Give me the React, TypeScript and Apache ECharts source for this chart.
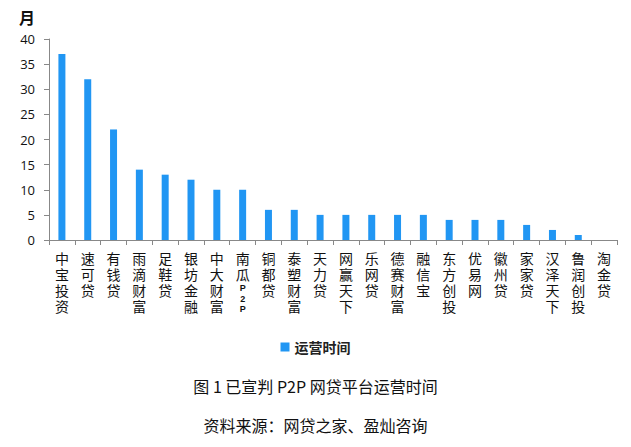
import React, { useEffect, useRef } from "react";
import * as echarts from "echarts";

const categories = [
  "中宝投资", "速可贷", "有钱贷", "雨滴财富", "足鞋贷", "银坊金融", "中大财富", "南瓜P2P",
  "铜都贷", "泰塑财富", "天力贷", "网赢天下", "乐网贷", "德赛财富", "融信宝", "东方创投",
  "优易网", "徽州贷", "家家贷", "汉泽天下", "鲁润创投", "淘金贷",
];
const months = [37, 32, 22, 14, 13, 12, 10, 10, 6, 6, 5, 5, 5, 5, 5, 4, 4, 4, 3, 2, 1, 0];
const yTicks = { min: 0, max: 40, interval: 5 };
const seriesName = "运营时间";
const yUnit = "月";
const titleText = "图 1 已宣判 P2P 网贷平台运营时间";
const sourceText = "资料来源：网贷之家、盈灿咨询";

const CJK = "'Noto Sans CJK SC', 'Noto Sans', sans-serif";
const LABEL_FONT = "'Liberation Sans', 'Noto Sans CJK SC', sans-serif";

function formatLabel(v: string): string {
  const m = v.match(/^(.*?)(P2P)$/);
  if (m) {
    const head = m[1].split("").join("\n");
    return head + "\n{p|P}\n{p|2}\n{p|P}";
  }
  return v.split("").join("\n");
}

export default function App() {
  const ref = useRef<HTMLDivElement>(null);
  useEffect(() => {
    document.body.style.margin = "0";
    const chart = echarts.init(ref.current!, undefined, { renderer: "svg" });
    chart.setOption({
      animation: false,
      backgroundColor: "#ffffff",
      grid: { left: 49, right: 14, top: 39, bottom: 207, containLabel: false },
      legend: {
        data: [seriesName],
        top: 335,
        left: "center",
        itemWidth: 9,
        itemHeight: 9,
        icon: "rect",
        itemGap: 4,
        textStyle: { fontFamily: CJK, fontSize: 14, fontWeight: "bold", color: "#222" },
      },
      graphic: [
        {
          type: "text",
          left: 19,
          top: 9,
          style: { text: yUnit, fontFamily: CJK, fontSize: 16, fontWeight: "bold", fill: "#111" },
        },
        {
          type: "text",
          left: "center",
          top: 378,
          style: { text: titleText, fontFamily: CJK, fontSize: 16, fill: "#111" },
        },
        {
          type: "text",
          left: "center",
          top: 417,
          style: { text: sourceText, fontFamily: CJK, fontSize: 16, fill: "#111" },
        },
      ],
      xAxis: {
        type: "category",
        data: categories,
        axisLine: { lineStyle: { color: "#888" } },
        axisTick: { show: true, length: 5, alignWithLabel: false, lineStyle: { color: "#888" } },
        axisLabel: {
          interval: 0,
          margin: 11,
          fontFamily: LABEL_FONT,
          fontSize: 14,
          lineHeight: 16,
          color: "#111",
          formatter: formatLabel,
          rich: {
            p: { fontFamily: "'Liberation Sans', sans-serif", fontSize: 9, lineHeight: 10.5, color: "#111", fontWeight: "bold" },
          },
        },
      },
      yAxis: {
        type: "value",
        min: yTicks.min,
        max: yTicks.max,
        interval: yTicks.interval,
        splitLine: { show: false },
        axisLine: { show: true, lineStyle: { color: "#888" } },
        axisTick: { show: true, length: 5, lineStyle: { color: "#888" } },
        axisLabel: {
          margin: 14,
          fontFamily: "'Open Sans', 'Noto Sans', sans-serif",
          fontSize: 13,
          color: "#111",
        },
      },
      series: [
        {
          name: seriesName,
          type: "bar",
          data: months,
          barWidth: 7,
          itemStyle: { color: "#2196F3" },
        },
      ],
    });
    return () => chart.dispose();
  }, []);
  return <div ref={ref} style={{ width: 631, height: 447 }} />;
}
